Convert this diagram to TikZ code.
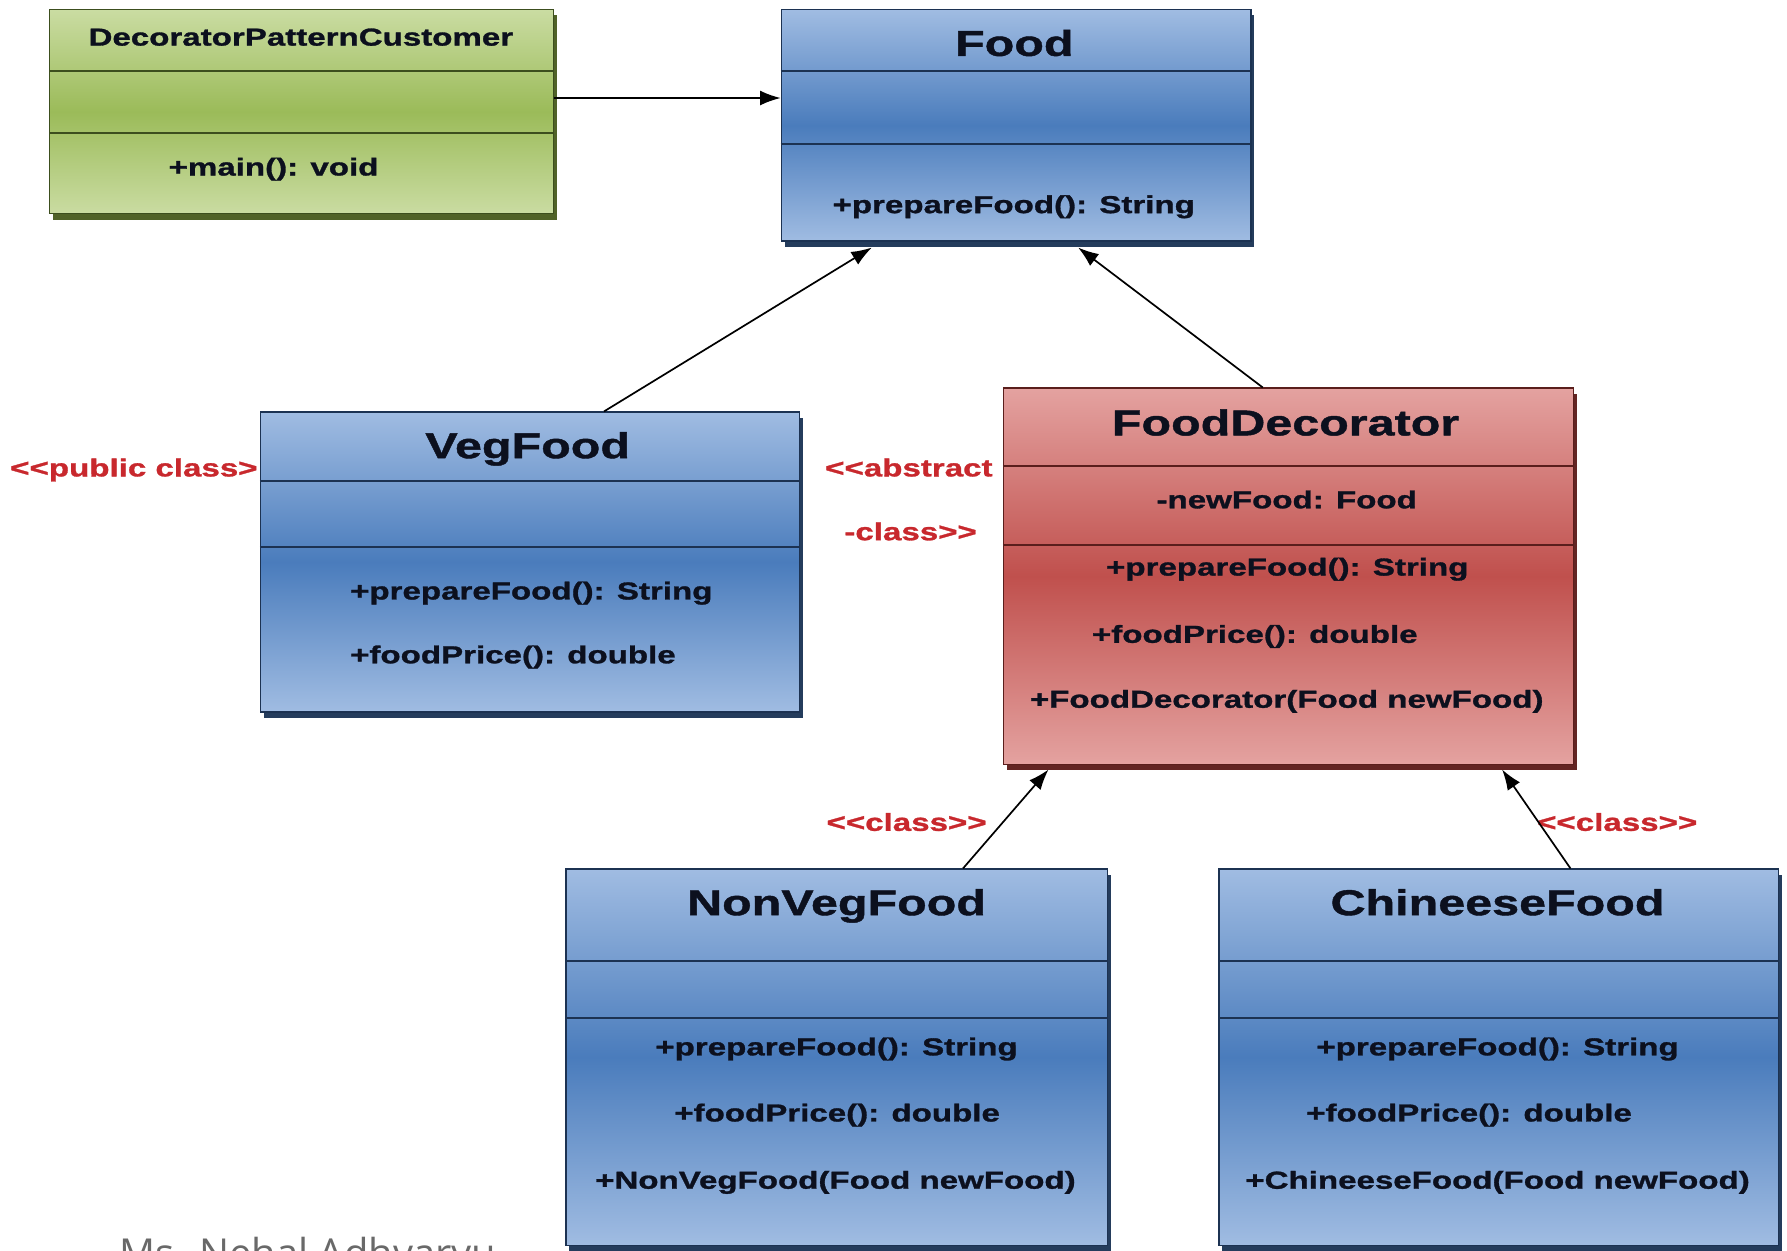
\documentclass[tikz,border=0pt]{standalone}
\usepackage{fontspec}
\setmainfont{Liberation Sans}
\newfontfamily\umlfont[FakeStretch=1.35, BoldFeatures={FakeBold=1.2}]{Liberation Sans}
\newfontfamily\notefont{Open Sans}
\usetikzlibrary{arrows.meta,shadows}

\definecolor{bLt}{RGB}{160,188,226}
\definecolor{bDk}{RGB}{74,124,188}
\definecolor{bLn}{RGB}{28,50,82}
\definecolor{bSh}{RGB}{36,60,92}
\definecolor{gLt}{RGB}{202,220,162}
\definecolor{gDk}{RGB}{155,187,89}
\definecolor{gLn}{RGB}{60,78,30}
\definecolor{gSh}{RGB}{80,98,40}
\definecolor{rLt}{RGB}{228,162,160}
\definecolor{rDk}{RGB}{192,80,77}
\definecolor{rLn}{RGB}{90,30,28}
\definecolor{rSh}{RGB}{99,37,35}
\definecolor{stereored}{RGB}{200,40,45}
\definecolor{notegray}{RGB}{105,105,105}
\definecolor{umlink}{RGB}{12,16,30}

\tikzset{
  classbox/.style={draw=#1Ln, line width=1.2pt, inner sep=0pt, anchor=north west,
    top color=#1Lt, bottom color=#1Lt, middle color=#1Dk,
    drop shadow={shadow xshift=3pt, shadow yshift=-5pt, fill=#1Sh, opacity=1}},
  sepline/.style={draw=#1, line width=1.6pt},
  ctitle/.style={anchor=base, inner sep=0pt, text=umlink, font=\umlfont\bfseries\fontsize{31.5}{34}\selectfont},
  cmember/.style={anchor=base, inner sep=0pt, text=umlink, font=\umlfont\bfseries\fontsize{21.5}{24}\selectfont},
  stereo/.style={cmember, text=stereored},
  inherit/.style={-{Latex[length=18pt,width=13pt]}, line width=1.5pt},
}

\begin{document}
\begin{tikzpicture}[x=1pt,y=-1pt]
	
	\clip (0,0) rectangle (1568,1097);
	\fill[white] (0,0) rectangle (1568,1097);
	
	\node[classbox=g, minimum width=442pt, minimum height=179pt] (cust) at (43,8) {};
	\node[classbox=b, minimum width=412pt, minimum height=203pt] (food) at (685,8) {};
	\node[classbox=b, minimum width=473pt, minimum height=263pt] (veg) at (228,361) {};
	\node[classbox=r, minimum width=500pt, minimum height=330pt] (dec) at (880,340) {};
	\node[classbox=b, minimum width=475pt, minimum height=330pt] (nonveg) at (496,762) {};
	\node[classbox=b, minimum width=491pt, minimum height=330pt] (chin) at (1069,762) {};
	
	\draw[sepline=gLn] (cust.west |- 0,62) -- (cust.east |- 0,62);
	\draw[sepline=gLn] (cust.west |- 0,117) -- (cust.east |- 0,117);
	\draw[sepline=bLn] (food.west |- 0,62) -- (food.east |- 0,62);
	\draw[sepline=bLn] (food.west |- 0,126) -- (food.east |- 0,126);
	\draw[sepline=bLn] (veg.west |- 0,422) -- (veg.east |- 0,422);
	\draw[sepline=bLn] (veg.west |- 0,480) -- (veg.east |- 0,480);
	\draw[sepline=rLn] (dec.west |- 0,409) -- (dec.east |- 0,409);
	\draw[sepline=rLn] (dec.west |- 0,478) -- (dec.east |- 0,478);
	\draw[sepline=bLn] (nonveg.west |- 0,843) -- (nonveg.east |- 0,843);
	\draw[sepline=bLn] (nonveg.west |- 0,893) -- (nonveg.east |- 0,893);
	\draw[sepline=bLn] (chin.west |- 0,843) -- (chin.east |- 0,843);
	\draw[sepline=bLn] (chin.west |- 0,893) -- (chin.east |- 0,893);
	
	\node[cmember] (cust-name) at (264,40) {DecoratorPatternCustomer};
	\node[cmember] (cust-main) at (240,154) {+main(): void};
	
	\node[ctitle] (food-name) at (890,49) {Food};
	\node[cmember] (food-prep) at (889.5,187) {+prepareFood(): String};
	
	\node[ctitle] (veg-name) at (463,402) {VegFood};
	\node[cmember, anchor=base west] (veg-prep) at (307,526) {+prepareFood(): String};
	\node[cmember, anchor=base west] (veg-price) at (307,582) {+foodPrice(): double};
	
	\node[ctitle] (dec-name) at (1128,382) {FoodDecorator};
	\node[cmember] (dec-attr) at (1129,446) {-newFood: Food};
	\node[cmember] (dec-prep) at (1129.5,505) {+prepareFood(): String};
	\node[cmember] (dec-price) at (1101,564) {+foodPrice(): double};
	\node[cmember] (dec-ctor) at (1129,621) {+FoodDecorator(Food newFood)};
	
	\node[ctitle] (nonveg-name) at (734,803) {NonVegFood};
	\node[cmember] (nonveg-prep) at (734,926) {+prepareFood(): String};
	\node[cmember] (nonveg-price) at (734.5,984) {+foodPrice(): double};
	\node[cmember] (nonveg-ctor) at (733,1043) {+NonVegFood(Food newFood)};
	
	\node[ctitle] (chin-name) at (1314,803) {ChineeseFood};
	\node[cmember] (chin-prep) at (1314,926) {+prepareFood(): String};
	\node[cmember] (chin-price) at (1289,984) {+foodPrice(): double};
	\node[cmember] (chin-ctor) at (1314,1043) {+ChineeseFood(Food newFood)};
	
	\node[stereo] (veg-st) at (117.5,418) {<<public class>};
	\node[stereo] (dec-st1) at (797.5,418) {<<abstract};
	\node[stereo] (dec-st2) at (799,474) {-class>>};
	\node[stereo] (nonveg-st) at (795.5,729) {<<class>>};
	\node[stereo] (chin-st) at (1419,729) {<<class>>};
	
	\draw[inherit] ([yshift=-78pt]cust.north east) -- ([yshift=-78pt]food.north west);
	\draw[inherit] ([xshift=302pt]veg.north west) -- ([xshift=80pt,yshift=-5pt]food.south west);
	\draw[inherit] ([xshift=228pt]dec.north west) -- ([xshift=261pt,yshift=-5pt]food.south west);
	\draw[inherit] ([xshift=349pt]nonveg.north west) -- ([xshift=40pt,yshift=-4pt]dec.south west);
	\draw[inherit] ([xshift=309pt]chin.north west) -- ([xshift=438pt,yshift=-4pt]dec.south west);
	
	\node[anchor=base west, inner sep=0pt, text=notegray, font=\notefont\fontsize{35}{40}\selectfont] (author) at (105,1112) {Ms. Nehal Adhvaryu};
	
\end{tikzpicture}
\end{document}
